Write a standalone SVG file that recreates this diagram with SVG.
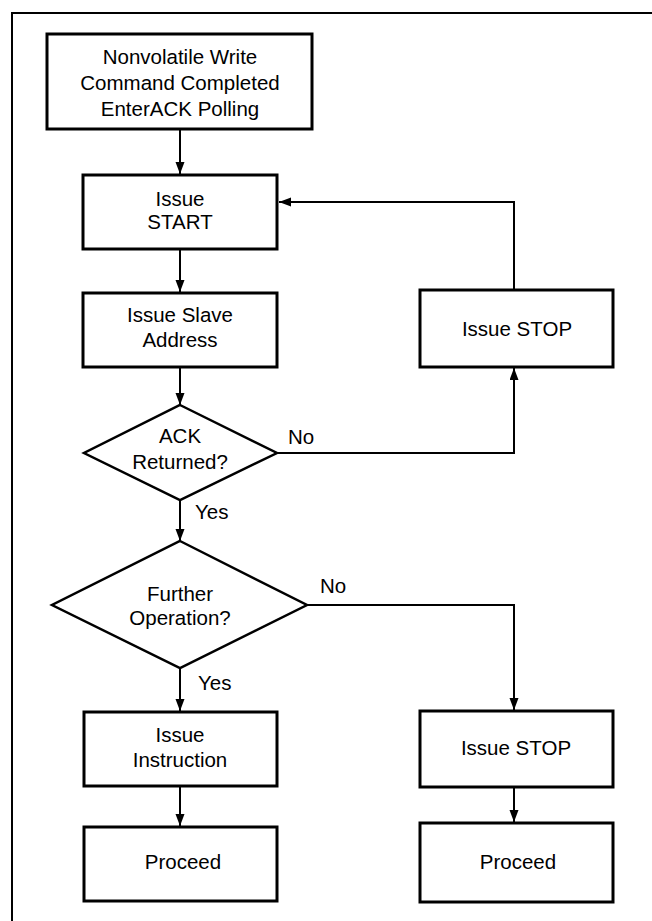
<svg xmlns="http://www.w3.org/2000/svg" width="652" height="921" viewBox="0 0 652 921">
<style>
.box{fill:#fff;stroke:#000;stroke-width:3}
.dia{fill:#fff;stroke:#000;stroke-width:2.5}
.ln{fill:none;stroke:#000;stroke-width:2}
text{font-family:"Liberation Sans",Arial,sans-serif;font-size:20.5px;fill:#000}
.c{text-anchor:middle}
</style>
<defs>
<marker id="ah" markerUnits="userSpaceOnUse" markerWidth="13" markerHeight="10" refX="12" refY="4.5" orient="auto">
<path d="M0,0 L12,4.5 L0,9 z" fill="#000"/>
</marker>
</defs>
<rect x="0" y="0" width="652" height="921" fill="#fff"/>
<rect x="12" y="13" width="680" height="940" fill="none" stroke="#000" stroke-width="2"/>
<g id="connectors">
<line class="ln" x1="180" y1="130" x2="180" y2="174" marker-end="url(#ah)"/>
<line class="ln" x1="180" y1="250" x2="180" y2="292" marker-end="url(#ah)"/>
<line class="ln" x1="180" y1="368" x2="180" y2="405" marker-end="url(#ah)"/>
<polyline class="ln" points="277,453 514,453 514,368" marker-end="url(#ah)"/>
<polyline class="ln" points="514,290 514,202 279,202" marker-end="url(#ah)"/>
<line class="ln" x1="180" y1="500" x2="180" y2="541" marker-end="url(#ah)"/>
<polyline class="ln" points="307,605 514,605 514,710" marker-end="url(#ah)"/>
<line class="ln" x1="180" y1="668" x2="180" y2="711" marker-end="url(#ah)"/>
<line class="ln" x1="180" y1="787" x2="180" y2="826" marker-end="url(#ah)"/>
<line class="ln" x1="514" y1="788" x2="514" y2="822" marker-end="url(#ah)"/>
<text x="288" y="444">No</text>
<text x="195" y="519">Yes</text>
<text x="320" y="593">No</text>
<text x="198" y="690">Yes</text>
</g>
<g id="n-start">
<rect class="box" x="47" y="34" width="265" height="95"/>
<text class="c" x="180" y="64">Nonvolatile Write</text>
<text class="c" x="180" y="90">Command Completed</text>
<text class="c" x="180" y="116">EnterACK Polling</text>
</g>
<g id="n-issue-start">
<rect class="box" x="83" y="175" width="194" height="74"/>
<text class="c" x="180" y="206">Issue</text>
<text class="c" x="180" y="229">START</text>
</g>
<g id="n-slave">
<rect class="box" x="83" y="293" width="194" height="74"/>
<text class="c" x="180" y="322">Issue Slave</text>
<text class="c" x="180" y="347">Address</text>
</g>
<g id="n-stop1">
<rect class="box" x="420" y="290" width="193" height="77"/>
<text class="c" x="517" y="335.5">Issue STOP</text>
</g>
<g id="n-ack">
<polygon class="dia" points="180,405 277,453 180,500 84,453"/>
<text class="c" x="180" y="443">ACK</text>
<text class="c" x="180" y="469">Returned?</text>
</g>
<g id="n-further">
<polygon class="dia" points="180,541 307,605 180,668 52,605"/>
<text class="c" x="180" y="601">Further</text>
<text class="c" x="180" y="625">Operation?</text>
</g>
<g id="n-instr">
<rect class="box" x="84" y="712" width="193" height="74"/>
<text class="c" x="180" y="742">Issue</text>
<text class="c" x="180" y="767">Instruction</text>
</g>
<g id="n-stop2">
<rect class="box" x="420" y="711" width="193" height="76"/>
<text class="c" x="516" y="755">Issue STOP</text>
</g>
<g id="n-proceed1">
<rect class="box" x="84" y="827" width="193" height="74"/>
<text class="c" x="183" y="869">Proceed</text>
</g>
<g id="n-proceed2">
<rect class="box" x="420" y="823" width="193" height="79"/>
<text class="c" x="518" y="869">Proceed</text>
</g>
</svg>
